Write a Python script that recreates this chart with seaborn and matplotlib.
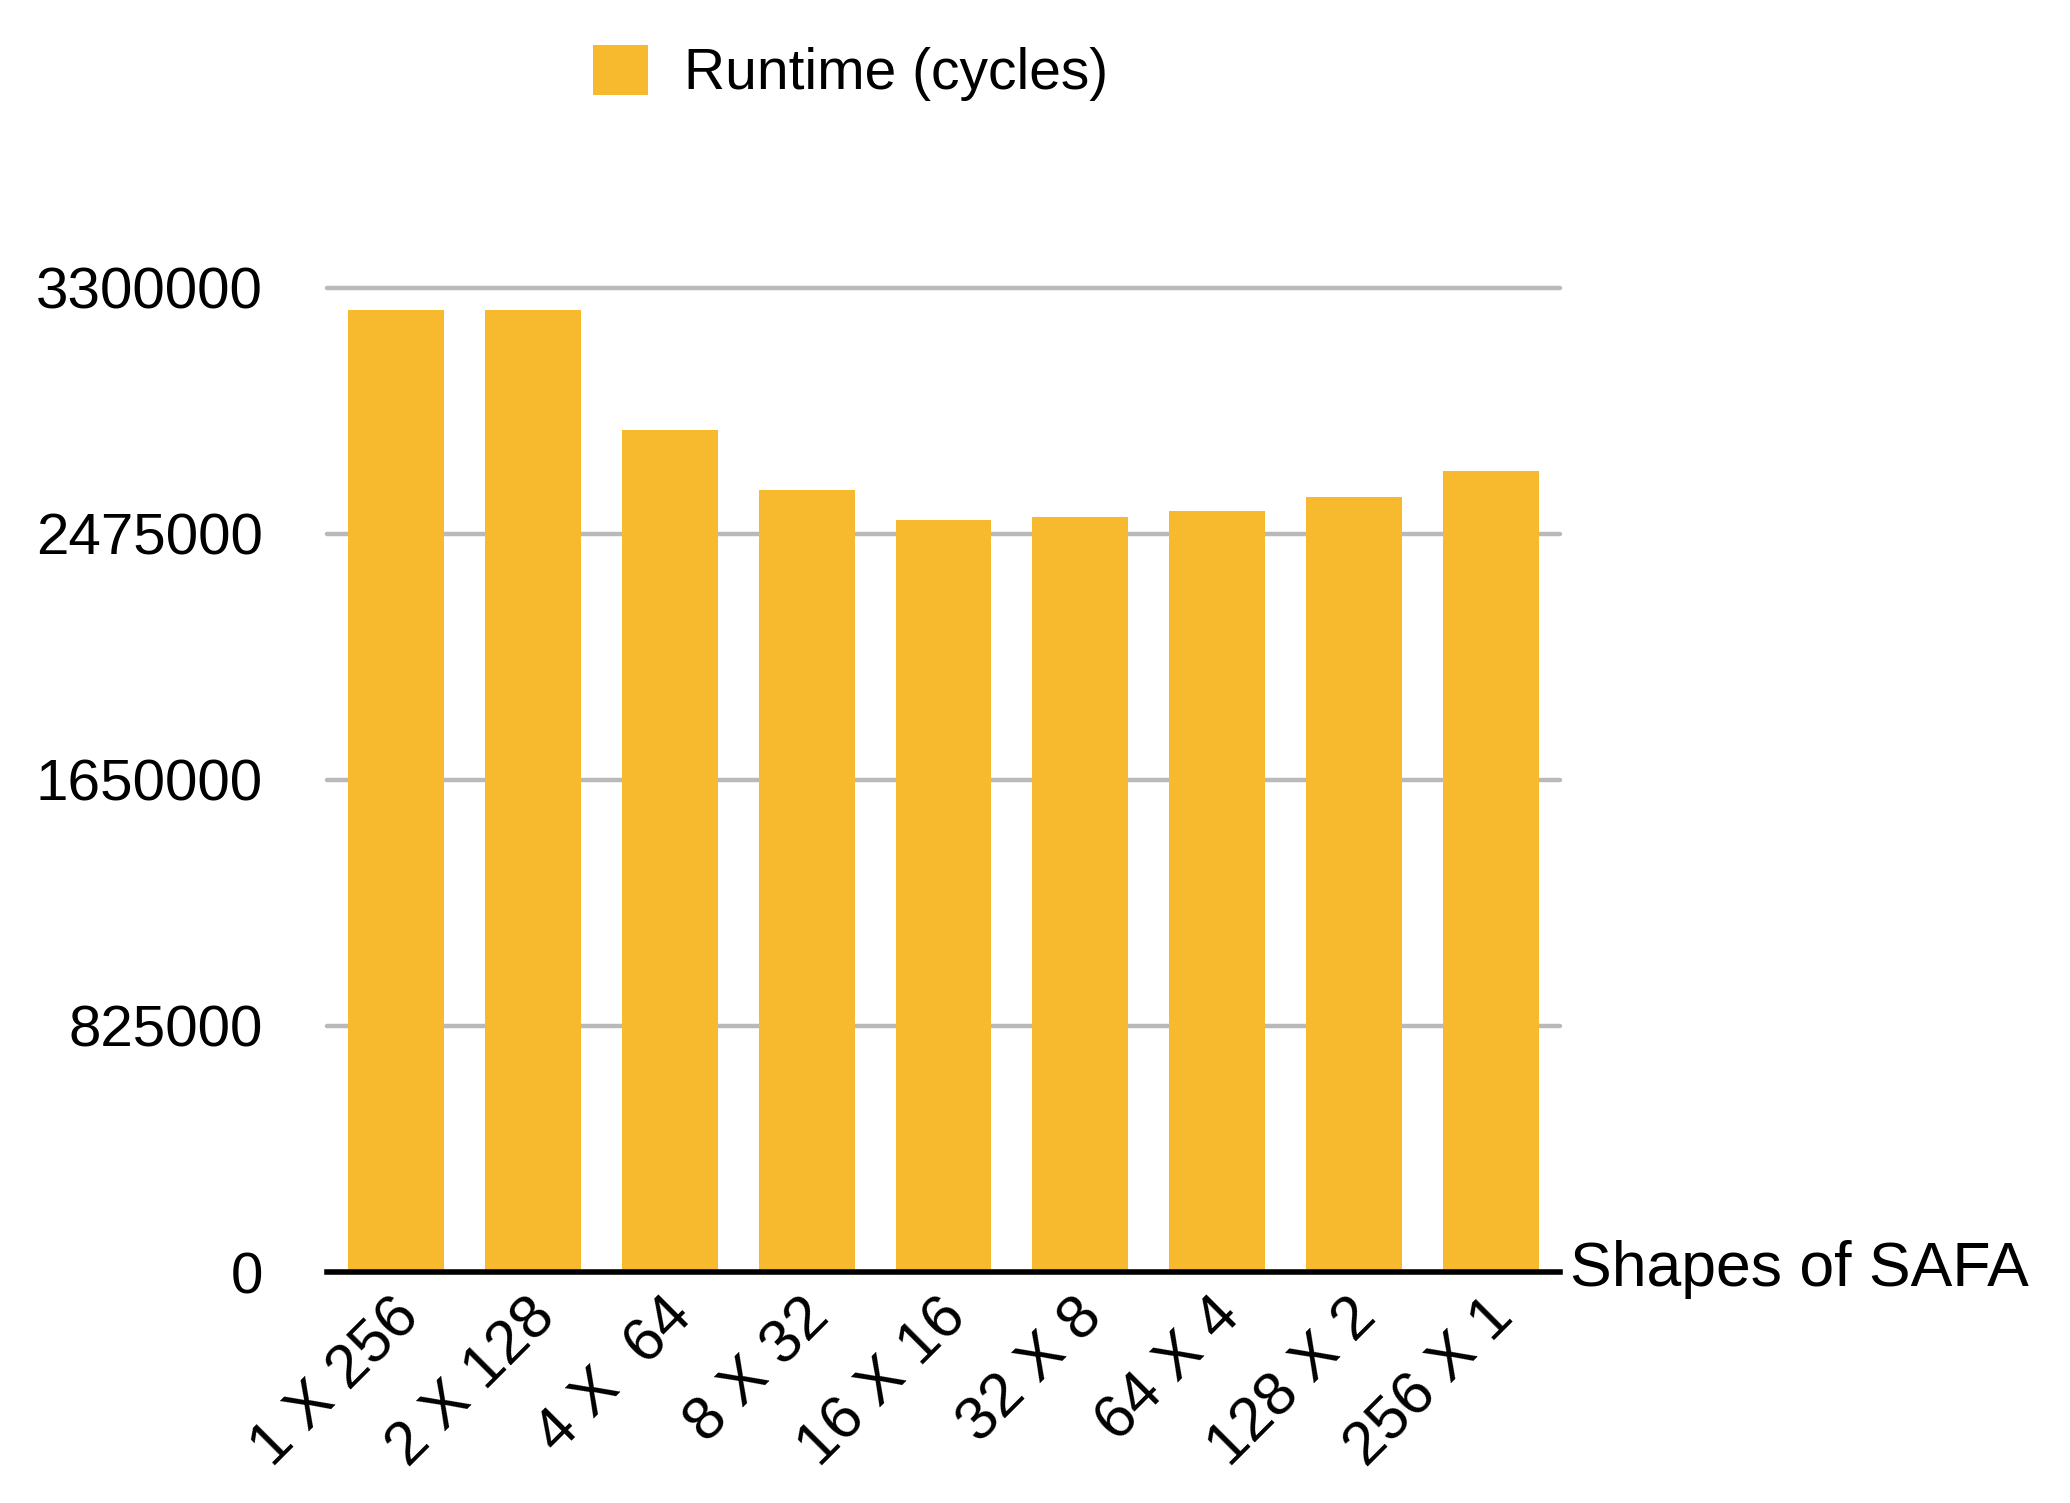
import matplotlib
matplotlib.use("Agg")
import matplotlib.pyplot as plt
import matplotlib.transforms as mtransforms
from matplotlib.patches import Patch
import seaborn as sns
import pandas as pd

shapes = ["1 X 256", "2 X 128", "4 X  64", "8 X 32", "16 X 16",
          "32 X 8", "64 X 4", "128 X 2", "256 X 1"]
runtime = [3225000, 3225000, 2822000, 2621000, 2520000,
           2532000, 2550000, 2597000, 2685000]
yticks = [0, 825000, 1650000, 2475000, 3300000]
series_name = "Runtime (cycles)"
x_title = "Shapes of SAFA"

BAR = "#F7B92D"

sns.set_theme(style="white")
plt.rcParams["font.family"] = ["Liberation Sans", "DejaVu Sans"]
plt.rcParams["text.color"] = "black"
plt.rcParams["xtick.color"] = "black"
plt.rcParams["ytick.color"] = "black"

df = pd.DataFrame({"shape": shapes, "runtime": runtime})

fig = plt.figure(figsize=(20.7, 15.03), dpi=100)
ax = fig.add_axes([327/2070, 1 - 1272/1503, (1560-327)/2070, (1272-287.7)/1503])

ax.set_axisbelow(True)
for t in yticks[1:]:
    ax.axhline(t, color="#b9b9b9", lw=3.2, zorder=0, clip_on=False)

sns.barplot(data=df, x="shape", y="runtime", color=BAR, width=0.70,
            linewidth=0, saturation=1, ax=ax, zorder=2)

ax.set_xlim(-0.507, 8.507)
ax.set_ylim(0, 3300000)
ax.set_yticks(yticks)
ax.set_yticklabels([str(v) for v in yticks], fontsize=42, color="black")
ax.tick_params(axis="y", length=0, pad=46)
ax.tick_params(axis="x", length=0, pad=34)

for s in ["top", "right", "left"]:
    ax.spines[s].set_visible(False)
ax.spines["bottom"].set_color("black")
ax.spines["bottom"].set_linewidth(4)
ax.spines["bottom"].set_zorder(5)

ax.set_xlabel("")
ax.set_ylabel("")
ax.set_xticks(range(len(shapes)))
ax.set_xticklabels(shapes, fontsize=44, rotation=45, ha="right",
                   va="baseline", rotation_mode="anchor", color="black")
offset = mtransforms.ScaledTranslation(0.25, 0, fig.dpi_scale_trans)
for lab in ax.get_xticklabels():
    lab.set_transform(lab.get_transform() + offset)

fig.text(1570/2070, 1 - 1286/1503, x_title, fontsize=45, ha="left",
         va="baseline", color="black")

handles = [Patch(facecolor=BAR, edgecolor="none", label=series_name)]
leg = fig.legend(handles=handles, loc="center left",
                 bbox_to_anchor=(593/2070, 1 - 73/1503), frameon=False,
                 fontsize=41, handlelength=0.97, handleheight=0.97,
                 handletextpad=0.62, borderpad=0, borderaxespad=0)
for txt in leg.get_texts():
    txt.set_color("black")

fig.savefig("out.png", dpi=100)
